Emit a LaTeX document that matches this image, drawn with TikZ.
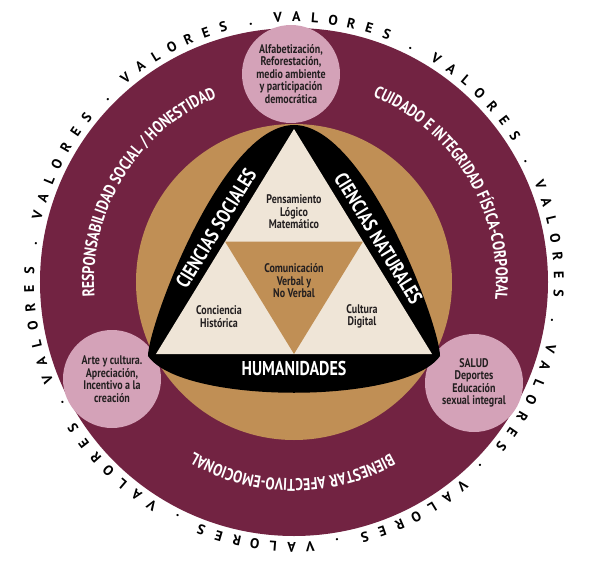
\documentclass[tikz,border=0pt]{standalone}
\usepackage{fontspec}
\setmainfont{PT Sans}
\newfontfamily\dinfont[FakeStretch=0.8]{PT Sans}
\usetikzlibrary{decorations.text}

\definecolor{maroon}{HTML}{722342}
\definecolor{ochre}{HTML}{C08F55}
\definecolor{rose}{HTML}{D4A2B8}
\definecolor{cream}{HTML}{EFE5D7}
\definecolor{ink}{HTML}{231F20}

\newcommand\ringfont{\dinfont\bfseries\fontsize{17}{17}\selectfont}

\begin{document}
\begin{tikzpicture}[x=1pt,y=1pt,
            pink node/.style={circle,fill=rose,minimum size=98pt,inner sep=0pt,align=center,
                text=ink,font=\dinfont\bfseries\fontsize{12.5}{12.5}\selectfont},
            field node/.style={align=center,text=ink,inner sep=0pt,
                font=\dinfont\bfseries\fontsize{12.5}{12.5}\selectfont},
            band node/.style={text=white,inner sep=0pt,font=\dinfont\bfseries\fontsize{20}{20}\selectfont},
            valores node/.style={anchor=base,inner sep=0pt,font=\bfseries\fontsize{14}{14}\selectfont},
            ring text/.style={decorate,decoration={text along path,text align=center,text color=white}}]

        \useasboundingbox (-294,-286) rectangle (295,282);

        % Define rings
        \fill[maroon] (0,0) circle[radius=254pt];
        \fill[ochre] (0,0) circle[radius=158pt];

        % Valores around the outside
        \foreach \k in {0,...,9} {
            \foreach \l [count=\j from 0] in {V,A,L,O,R,E,S} {
                \pgfmathsetmacro\ang{81.5-36*\k+12-4*\j}
                \node[valores node,rotate=\ang-90] (v\k-\j) at (\ang:260) {\l};
            }
            \pgfmathsetmacro\dotang{81.5-36*\k-18}
            \node[valores node,rotate=\dotang-90] (dot\k) at (\dotang:260) {.};
        }

        % Texts along the ring
        \path[ring text,decoration={text={|\ringfont|RESPONSABILIDAD SOCIAL / HONESTIDAD}}]
            (205:200) arc[start angle=205,end angle=92,radius=200pt];
        \path[ring text,decoration={text={|\ringfont|CUIDADO E INTEGRIDAD F{Í}SICA-CORPORAL}}]
            (88:202) arc[start angle=88,end angle=-26,radius=202pt];
        \path[ring text,decoration={text={|\ringfont|BIENESTAR AFECTIVO-EMOCIONAL}}]
            (-30:197) arc[start angle=-30,end angle=-151,radius=197pt];

        % Pink circles
        \node[pink node] (alfa) at (-3,208) {Alfabetización,\\Reforestación,\\medio ambiente\\y participación\\democrática};
        \node[pink node] (arte) at (-182,-97) {Arte y cultura.\\Apreciación,\\Incentivo a la\\creación};
        \node[pink node] (salud) at (180,-101) {SALUD\\Deportes\\Educación\\sexual integral};

        % Black triangle
        \coordinate (apex) at (0,157);
        \coordinate (left corner) at (-146,-74);
        \coordinate (right corner) at (146,-74);
        \fill (apex) .. controls (-72,157) and (-146,-44) .. (left corner)
            .. controls (-112,-123) and (112,-123) .. (right corner)
            .. controls (146,-44) and (72,157) .. (apex) -- cycle;
        \fill[cream] (0,153) -- (-138,-72) -- (138,-72) -- cycle;
        \fill[ochre] (-69,40.5) -- (69,40.5) -- (0,-72) -- cycle;

        % Band labels
        \node[band node,rotate=58.6] (sociales) at (-78,53.5) {CIENCIAS SOCIALES};
        \node[band node,rotate=-58.6] (naturales) at (84.5,43.5) {CIENCIAS NATURALES};
        \node[band node] (humanidades) at (0,-86.5) {HUMANIDADES};

        % Field labels
        \node[field node] (logico) at (0,70) {Pensamiento\\Lógico\\Matemático};
        \node[field node] (comunicacion) at (0,1) {Comunicación\\Verbal y\\No Verbal};
        \node[field node] (historica) at (-75,-34.5) {Conciencia\\Histórica};
        \node[field node] (digital) at (68,-34.5) {Cultura\\Digital};

\end{tikzpicture}
\end{document}
